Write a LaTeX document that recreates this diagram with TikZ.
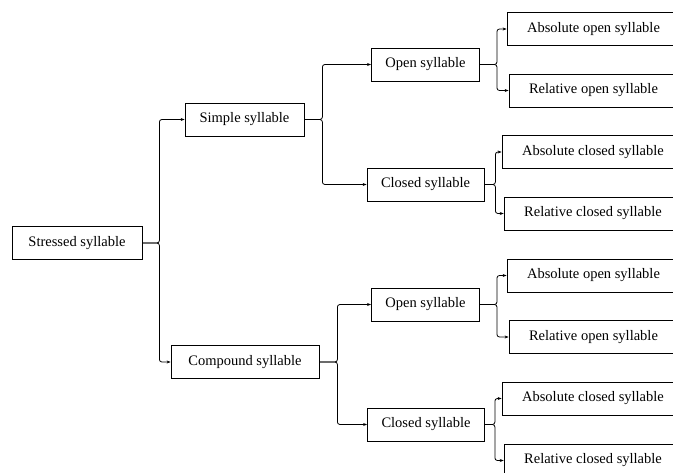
\documentclass[tikz,border=0pt]{standalone}
\usepackage{fontspec}
\setmainfont{Liberation Serif}
\usetikzlibrary{arrows.meta}

\tikzset{
    sbox/.style={draw, line width=0.8pt, minimum height=33pt, inner xsep=14pt,
        font=\fontsize{14.5}{17}\selectfont},
    leafbox/.style={sbox, inner xsep=20pt},
    branch/.style={line width=0.8pt, rounded corners=2.5pt,
        -{Stealth[length=4pt,width=3pt]}}
}

\begin{document}
\begin{tikzpicture}[x=1pt, y=-1pt]
        \useasboundingbox (0,0) rectangle (673,473);

        % Root
        \node[sbox, minimum width=130pt] (stressed) at (77,243) {Stressed syllable};

        % Second level
        \node[sbox, minimum width=119pt] (simple) at (244.5,119.5) {Simple syllable};
        \node[sbox, minimum width=148pt] (compound) at (245,362) {Compound syllable};

        % Third level (simple)
        \node[sbox, minimum width=107pt] (open1) at (425.5,64.5) {Open syllable};
        \node[sbox, minimum width=115pt] (closed1) at (425.5,184.5) {Closed syllable};

        % Third level (compound)
        \node[sbox, minimum width=107pt] (open2) at (425.5,304.5) {Open syllable};
        \node[sbox, minimum width=116pt] (closed2) at (426,424.5) {Closed syllable};

        % Leaves (simple)
        \node[leafbox, minimum width=173pt] (absopen1) at (593.5,29) {Absolute open syllable};
        \node[leafbox, minimum width=169pt] (relopen1) at (593.5,90.5) {Relative open syllable};
        \node[leafbox, minimum width=182pt] (absclosed1) at (593,152) {Absolute closed syllable};
        \node[leafbox, minimum width=176pt] (relclosed1) at (593,213.5) {Relative closed syllable};

        % Leaves (compound)
        \node[leafbox, minimum width=173pt] (absopen2) at (593.5,275.5) {Absolute open syllable};
        \node[leafbox, minimum width=169pt] (relopen2) at (593.5,337) {Relative open syllable};
        \node[leafbox, minimum width=182pt] (absclosed2) at (593,398.5) {Absolute closed syllable};
        \node[leafbox, minimum width=176pt] (relclosed2) at (593,460.5) {Relative closed syllable};

        % Connectors
        \draw[branch] (stressed.east) -- ++(17,0) |- (simple.west);
        \draw[branch] (stressed.east) -- ++(17,0) |- (compound.west);

        \draw[branch] (simple.east) -- ++(18,0) |- (open1.west);
        \draw[branch] (simple.east) -- ++(18,0) |- (closed1.west);
        \draw[branch] (compound.east) -- ++(18,0) |- (open2.west);
        \draw[branch] (compound.east) -- ++(18,0) |- (closed2.west);

        \draw[branch] (open1.east) -- ++(17,0) |- (absopen1.west);
        \draw[branch] (open1.east) -- ++(17,0) |- (relopen1.west);
        \draw[branch] (closed1.east) -- ++(11,0) |- (absclosed1.west);
        \draw[branch] (closed1.east) -- ++(11,0) |- (relclosed1.west);
        \draw[branch] (open2.east) -- ++(17,0) |- (absopen2.west);
        \draw[branch] (open2.east) -- ++(17,0) |- (relopen2.west);
        \draw[branch] (closed2.east) -- ++(10,0) |- (absclosed2.west);
        \draw[branch] (closed2.east) -- ++(10,0) |- (relclosed2.west);
    \end{tikzpicture}
\end{document}
